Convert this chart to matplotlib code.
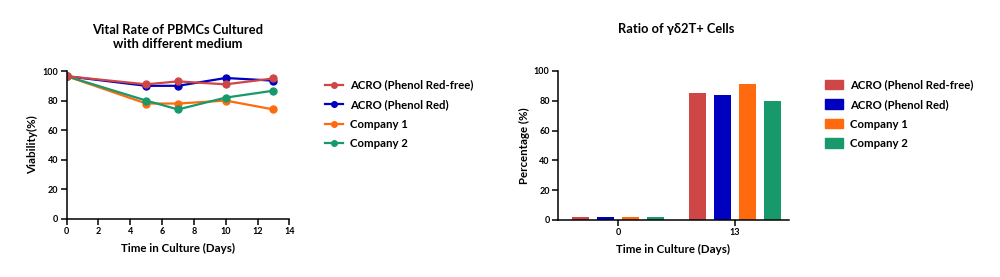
import matplotlib
matplotlib.use("Agg")
import matplotlib.pyplot as plt
import numpy as np
from matplotlib.patches import Patch
from matplotlib.lines import Line2D

plt.rcParams['font.family'] = ['Lato', 'DejaVu Sans']
plt.rcParams['font.weight'] = 'bold'

series = ["ACRO (Phenol Red-free)", "ACRO (Phenol Red)", "Company 1", "Company 2"]
colors = ["#CF4646", "#0000C0", "#FF6A0E", "#17996B"]

days = [0, 5, 7, 10, 13]
viab_redfree = [96.5, 91, 93, 91, 95]
viab_red = [96.5, 90, 90, 95.3, 93.5]
viab_c1 = [96.5, 78, 78, 80, 74]
viab_c2 = [96.5, 80, 74, 82, 86.7]
viability = [viab_redfree, viab_red, viab_c1, viab_c2]

bar_days = ["0", "13"]
ratio_redfree = [1.8, 85]
ratio_red = [1.8, 83.8]
ratio_c1 = [1.8, 91]
ratio_c2 = [1.8, 79.6]
ratios = [ratio_redfree, ratio_red, ratio_c1, ratio_c2]

fig = plt.figure(figsize=(10, 2.77), dpi=100)

def style(ax):
    for s in ['top', 'right']:
        ax.spines[s].set_visible(False)
    for s in ['left', 'bottom']:
        ax.spines[s].set_linewidth(1.1)
    ax.tick_params(axis='both', direction='out', length=4, width=1.1, labelsize=6.5, pad=2)
    for lab in ax.get_xticklabels() + ax.get_yticklabels():
        lab.set_fontweight('bold')

# Left line chart
ax1 = fig.add_axes([0.0667, 0.2105, 0.2226, 0.533])
order = [1, 2, 3, 0]
for i in order:
    ax1.plot(days, viability[i], color=colors[i], lw=1.6, marker='o', ms=5, label=series[i])
ax1.set_xlim(0, 14)
ax1.set_ylim(0, 100)
ax1.set_xticks(range(0, 15, 2))
ax1.set_yticks(range(0, 101, 20))
ax1.set_xlabel("Time in Culture (Days)", fontsize=8.3, fontweight='bold', labelpad=5)
ax1.set_ylabel("Viability(%)", fontsize=8.3, fontweight='bold', labelpad=3)
style(ax1)
fig.text(0.178, 0.865, "Vital Rate of PBMCs Cultured\nwith different medium", ha='center', va='center',
         fontsize=9.3, fontweight='bold', linespacing=1.2)

handles1 = [Line2D([0], [0], color=c, lw=1.6, marker='o', ms=4) for c in colors]
fig.legend(handles1, series, loc='upper left', bbox_to_anchor=(0.315, 0.75), frameon=False,
           prop={'size': 8.2, 'weight': 'bold'}, handlelength=1.6, handletextpad=0.6,
           labelspacing=0.75)

# Right bar chart
ax2 = fig.add_axes([0.558, 0.2058, 0.231, 0.538])
centers = np.array([0.0, 1.0])
pitch = 0.214
width = 0.143
for i, (vals, c) in enumerate(zip(ratios, colors)):
    ax2.bar(centers + (i - 1.5) * pitch, vals, width=width, color=c, label=series[i])
ax2.set_xlim(-0.513, 1.462)
ax2.set_ylim(0, 100)
ax2.set_xticks(centers)
ax2.set_xticklabels(bar_days)
ax2.set_yticks(range(0, 101, 20))
ax2.set_xlabel("Time in Culture (Days)", fontsize=8.3, fontweight='bold', labelpad=5)
ax2.set_ylabel("Percentage (%)", fontsize=8.3, fontweight='bold', labelpad=3)
style(ax2)
fig.text(0.676, 0.895, "Ratio of γδ2T+ Cells", ha='center', va='center', fontsize=9.3, fontweight='bold')

handles2 = [Patch(color=c) for c in colors]
fig.legend(handles2, series, loc='upper left', bbox_to_anchor=(0.815, 0.75), frameon=False,
           prop={'size': 8.2, 'weight': 'bold'}, handlelength=1.6, handleheight=0.9,
           handletextpad=0.6, labelspacing=0.75)

fig.savefig("out.png", dpi=100)
